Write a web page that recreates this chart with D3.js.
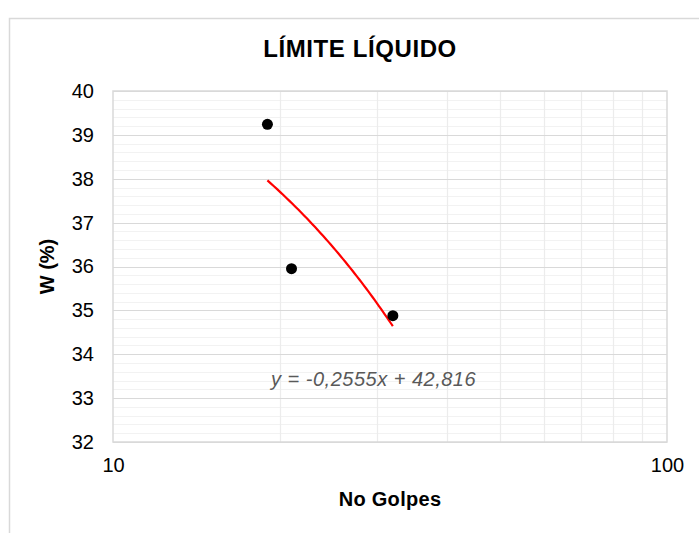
<!DOCTYPE html>
<html><head><meta charset="utf-8">
<script src="https://cdn.jsdelivr.net/npm/d3@7"></script>
<style>body{margin:0;background:#fff}svg{display:block;font-family:"Liberation Sans",Arial,sans-serif}</style>
</head><body>
<script>
const golpes = [19, 21, 32];
const humedad = [39.24, 35.95, 34.88];
const trendSlope = -0.2555;
const trendIntercept = 42.816;
const trendLabel = "y = -0,2555x + 42,816";
const yTicks = [32, 33, 34, 35, 36, 37, 38, 39, 40];
const xTicks = [10, 100];
const xGrid = [20, 30, 40, 50, 60, 70, 80, 90];
const title = "LÍMITE LÍQUIDO";
const xTitle = "No Golpes";
const yTitle = "W (%)";

const W = 699, H = 533;
const L = 113, R = 667, T = 91, B = 442;
const svg = d3.select("body").append("svg").attr("width", W).attr("height", H);

svg.append("rect").attr("x", 9.5).attr("y", 18.5).attr("width", 700).attr("height", 540)
  .attr("fill", "#fff").attr("stroke", "#d9d9d9").attr("stroke-width", 1.5);

const x = d3.scaleLog().domain([10, 100]).range([L, R]);
const y = d3.scaleLinear().domain([32, 40]).range([B, T]);

// minor horizontal grid
const minor = d3.range(32, 40.001, 0.2).filter(v => Math.abs(v - Math.round(v)) > 1e-6);
svg.append("g").selectAll("line").data(minor).join("line")
  .attr("x1", L).attr("x2", R).attr("y1", d => Math.round(y(d)) + 0.5).attr("y2", d => Math.round(y(d)) + 0.5)
  .attr("stroke", "#f2f2f2").attr("stroke-width", 1);
// vertical grid
svg.append("g").selectAll("line").data(xGrid).join("line")
  .attr("x1", d => Math.round(x(d)) + 0.5).attr("x2", d => Math.round(x(d)) + 0.5).attr("y1", T).attr("y2", B)
  .attr("stroke", "#ececec").attr("stroke-width", 1.2);
// major horizontal grid
svg.append("g").selectAll("line").data(yTicks).join("line")
  .attr("x1", L).attr("x2", R).attr("y1", d => Math.round(y(d)) + 0.5).attr("y2", d => Math.round(y(d)) + 0.5)
  .attr("stroke", "#d9d9d9").attr("stroke-width", 1.2);
// plot border
svg.append("rect").attr("x", L).attr("y", T).attr("width", R - L).attr("height", B - T)
  .attr("fill", "none").attr("stroke", "#d9d9d9").attr("stroke-width", 1.5);

// axes
const yAxis = d3.axisLeft(y).tickValues(yTicks).tickSize(0).tickPadding(19).tickFormat(d3.format("d"));
const gy = svg.append("g").attr("transform", `translate(${L},0)`).call(yAxis);
gy.select(".domain").remove();
gy.selectAll("text").attr("font-size", 20).attr("fill", "#000").attr("font-family", "Liberation Sans, Arial");

const xAxis = d3.axisBottom(x).tickValues(xTicks).tickSize(0).tickPadding(16).tickFormat(d3.format("d"));
const gx = svg.append("g").attr("transform", `translate(0,${B})`).call(xAxis);
gx.select(".domain").remove();
gx.selectAll("text").attr("font-size", 20).attr("fill", "#000").attr("font-family", "Liberation Sans, Arial");

// trendline
const xs = d3.range(0, 51).map(i => golpes[0] + (golpes[2] - golpes[0]) * i / 50);
svg.append("path").datum(xs)
  .attr("d", d3.line().x(d => x(d)).y(d => y(trendSlope * d + trendIntercept)))
  .attr("fill", "none").attr("stroke", "#ff0000").attr("stroke-width", 2.2);

// points
svg.append("g").selectAll("circle").data(golpes).join("circle")
  .attr("cx", d => x(d)).attr("cy", (d, i) => y(humedad[i])).attr("r", 5.5).attr("fill", "#000");

// equation label
svg.append("text").attr("x", 271).attr("y", 386).text(trendLabel)
  .attr("font-size", 20).attr("letter-spacing", 0.5).attr("font-style", "italic").attr("fill", "#595959");

// titles
svg.append("text").attr("x", 360).attr("y", 57).attr("text-anchor", "middle")
  .attr("font-size", 24).attr("letter-spacing", 0.6).attr("font-weight", "bold").text(title);
svg.append("text").attr("x", (L + R) / 2).attr("y", 506).attr("text-anchor", "middle")
  .attr("font-size", 20).attr("letter-spacing", 0.3).attr("font-weight", "bold").text(xTitle);
svg.append("text").attr("transform", `translate(54,${(T + B) / 2}) rotate(-90)`).attr("text-anchor", "middle")
  .attr("font-size", 20).attr("font-weight", "bold").text(yTitle);
</script>
</body></html>
